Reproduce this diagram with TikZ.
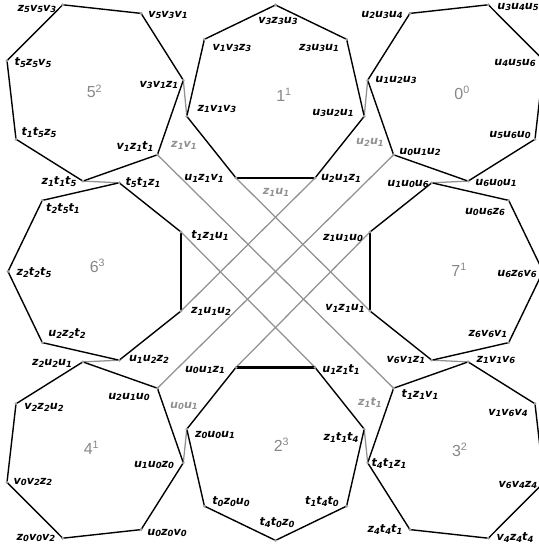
\documentclass[tikz,border=0pt]{standalone}
\usepackage{fontspec}
\setmainfont{DejaVu Sans}
\newfontfamily\facefont{Liberation Sans}
\definecolor{linkgray}{RGB}{145,145,145}
\definecolor{dotgray}{RGB}{160,160,160}
\definecolor{facegray}{RGB}{135,135,135}
\newcommand{\ix}[1]{\raisebox{-0.32ex}{\fontsize{6.3}{7}\selectfont#1}}
\newcommand{\tri}[6]{#1\ix{#2}#3\ix{#4}#5\ix{#6}}
\newcommand{\duo}[4]{#1\ix{#2}#3\ix{#4}}
\pgfdeclarelayer{lines}
\pgfsetlayers{lines,main}
\tikzset{
  side/.style={black,line width=1.05pt,line join=round},
  bond/.style={black,line width=1.8pt},
  link/.style={linkgray,line width=0.95pt},
  vtx/.style={circle,fill=dotgray,inner sep=0pt,minimum size=2.4pt},
  tag/.style={font=\fontsize{8.4}{10}\selectfont\bfseries\itshape,inner sep=0pt},
  linktag/.style={tag,text=linkgray},
  face/.style={font=\facefont\fontsize{12}{14}\selectfont,text=facegray,inner sep=0pt,anchor=base west},
}

\begin{document}
\begin{tikzpicture}[x=0.75pt,y=-0.75pt]
  \path[use as bounding box] (0,0) rectangle (538,548);

  % heptagon 5
  \node[vtx] (z5v5v3) at (62.7,4.8) {};    \node[tag] (tz5v5v3) at (37,9) {\tri z5v5v3};
  \node[vtx] (v5v3v1) at (141.1,13.4) {};  \node[tag] (tv5v3v1) at (168,15) {\tri v5v3v1};
  \node[vtx] (v3v1z1) at (183.3,80.2) {};  \node[tag] (tv3v1z1) at (159,85) {\tri v3v1z1};
  \node[vtx] (v1z1t1) at (157.4,154.8) {}; \node[tag] (tv1z1t1) at (135,147) {\tri v1z1t1};
  \node[vtx] (z1t1t5) at (82.9,181.1) {};  \node[tag] (tz1t1t5) at (59,182) {\tri z1t1t5};
  \node[vtx] (t1t5z5) at (16.0,139.2) {};  \node[tag] (tt1t5z5) at (39,133) {\tri t1t5z5};
  \node[vtx] (t5z5v5) at (7.0,60.7) {};    \node[tag] (tt5z5v5) at (33,63) {\tri t5z5v5};
  \node[face] (f5) at (86.5,98) {5\textsuperscript{2}};

  % heptagon 1
  \node[vtx] (v3z3u3) at (275.5,5.0) {};   \node[tag] (tv3z3u3) at (278,21) {\tri v3z3u3};
  \node[vtx] (z3u3u1) at (346.6,39.3) {};  \node[tag] (tz3u3u1) at (319,48) {\tri z3u3u1};
  \node[vtx] (u3u2u1) at (364.2,116.3) {}; \node[tag] (tu3u2u1) at (333,113) {\tri u3u2u1};
  \node[vtx] (u2u1z1) at (315.0,178.0) {}; \node[tag] (tu2u1z1) at (341,178) {\tri u2u1z1};
  \node[vtx] (u1z1v1) at (236.0,178.0) {}; \node[tag] (tu1z1v1) at (204,178) {\tri u1z1v1};
  \node[vtx] (z1v1v3) at (186.8,116.3) {}; \node[tag] (tz1v1v3) at (217,109) {\tri z1v1v3};
  \node[vtx] (v1v3z3) at (204.4,39.3) {};  \node[tag] (tv1v3z3) at (232,48) {\tri v1v3z3};
  \node[face] (f1) at (276,101.5) {1\textsuperscript{1}};

  % heptagon 0
  \node[vtx] (u2u3u4) at (409.9,13.4) {};  \node[tag] (tu2u3u4) at (382,15) {\tri u2u3u4};
  \node[vtx] (u3u4u5) at (488.3,4.8) {};   \node[tag] (tu3u4u5) at (518,7) {\tri u3u4u5};
  \node[vtx] (u4u5u6) at (544.0,60.7) {};  \node[tag] (tu4u5u6) at (515,63) {\tri u4u5u6};
  \node[vtx] (u5u6u0) at (535.0,139.2) {}; \node[tag] (tu5u6u0) at (510,135) {\tri u5u6u0};
  \node[vtx] (u6u0u1) at (468.1,181.1) {}; \node[tag] (tu6u0u1) at (496,183) {\tri u6u0u1};
  \node[vtx] (u0u1u2) at (393.6,154.8) {}; \node[tag] (tu0u1u2) at (420,152) {\tri u0u1u2};
  \node[vtx] (u1u2u3) at (367.7,80.2) {};  \node[tag] (tu1u2u3) at (396,80) {\tri u1u2u3};
  \node[face] (f0) at (454.2,99.5) {0\textsuperscript{0}};

  % heptagon 6
  \node[vtx] (t5t1z1) at (119.2,182.8) {}; \node[tag] (tt5t1z1) at (143,183) {\tri t5t1z1};
  \node[vtx] (t1z1u1) at (181.0,232.0) {}; \node[tag] (tt1z1u1) at (210,236) {\tri t1z1u1};
  \node[vtx] (z1u1u2) at (181.0,311.0) {}; \node[tag] (tz1u1u2) at (211,311) {\tri z1u1u2};
  \node[vtx] (u1u2z2) at (119.2,360.2) {}; \node[tag] (tu1u2z2) at (149,359) {\tri u1u2z2};
  \node[vtx] (u2z2t2) at (42.3,342.6) {};  \node[tag] (tu2z2t2) at (67,334) {\tri u2z2t2};
  \node[vtx] (z2t2t5) at (8.0,271.5) {};   \node[tag] (tz2t2t5) at (34,273) {\tri z2t2t5};
  \node[vtx] (t2t5t1) at (42.3,200.4) {};  \node[tag] (tt2t5t1) at (63,209) {\tri t2t5t1};
  \node[face] (f6) at (89.5,272.7) {6\textsuperscript{3}};

  % heptagon 7
  \node[vtx] (u1u0u6) at (431.8,182.8) {}; \node[tag] (tu1u0u6) at (408,184) {\tri u1u0u6};
  \node[vtx] (u0u6z6) at (508.7,200.4) {}; \node[tag] (tu0u6z6) at (485,212) {\tri u0u6z6};
  \node[vtx] (u6z6v6) at (543.0,271.5) {}; \node[tag] (tu6z6v6) at (517,274) {\tri u6z6v6};
  \node[vtx] (z6v6v1) at (508.7,342.6) {}; \node[tag] (tz6v6v1) at (488,334) {\tri z6v6v1};
  \node[vtx] (v6v1z1) at (431.8,360.2) {}; \node[tag] (tv6v1z1) at (406,360) {\tri v6v1z1};
  \node[vtx] (v1z1u1) at (370.0,311.0) {}; \node[tag] (tv1z1u1) at (345,308) {\tri v1z1u1};
  \node[vtx] (z1u1u0) at (370.0,232.0) {}; \node[tag] (tz1u1u0) at (343,238) {\tri z1u1u0};
  \node[face] (f7) at (451.2,276.7) {7\textsuperscript{1}};

  % heptagon 4
  \node[vtx] (z2u2u1) at (82.9,361.9) {};  \node[tag] (tz2u2u1) at (52,363) {\tri z2u2u1};
  \node[vtx] (u2u1u0) at (157.4,388.2) {}; \node[tag] (tu2u1u0) at (129,397) {\tri u2u1u0};
  \node[vtx] (u1u0z0) at (183.3,462.8) {}; \node[tag] (tu1u0z0) at (154,465) {\tri u1u0z0};
  \node[vtx] (u0z0v0) at (141.1,529.6) {}; \node[tag] (tu0z0v0) at (167,533) {\tri u0z0v0};
  \node[vtx] (z0v0v2) at (62.7,538.2) {};  \node[tag] (tz0v0v2) at (36,538) {\tri z0v0v2};
  \node[vtx] (v0v2z2) at (7.0,482.3) {};   \node[tag] (tv0v2z2) at (33,482) {\tri v0v2z2};
  \node[vtx] (v2z2u2) at (16.0,403.8) {};  \node[tag] (tv2z2u2) at (44,407) {\tri v2z2u2};
  \node[face] (f4) at (83.5,454.3) {4\textsuperscript{1}};

  % heptagon 2
  \node[vtx] (u0u1z1) at (236.0,367.4) {}; \node[tag] (tu0u1z1) at (205,370) {\tri u0u1z1};
  \node[vtx] (u1z1t1) at (315.0,367.4) {}; \node[tag] (tu1z1t1) at (341,370) {\tri u1z1t1};
  \node[vtx] (z1t1t4) at (364.2,429.1) {}; \node[tag] (tz1t1t4) at (341,438) {\tri z1t1t4};
  \node[vtx] (t1t4t0) at (346.6,506.1) {}; \node[tag] (tt1t4t0) at (322,502) {\tri t1t4t0};
  \node[vtx] (t4t0z0) at (275.5,540.4) {}; \node[tag] (tt4t0z0) at (277,523) {\tri t4t0z0};
  \node[vtx] (t0z0u0) at (204.4,506.1) {}; \node[tag] (tt0z0u0) at (231,502) {\tri t0z0u0};
  \node[vtx] (z0u0u1) at (186.8,429.1) {}; \node[tag] (tz0u0u1) at (215,435) {\tri z0u0u1};
  \node[face] (f2) at (273.5,451.7) {2\textsuperscript{3}};

  % heptagon 3
  \node[vtx] (t1z1v1) at (393.6,388.2) {}; \node[tag] (tt1z1v1) at (420,395) {\tri t1z1v1};
  \node[vtx] (z1v1v6) at (468.1,361.9) {}; \node[tag] (tz1v1v6) at (496,360) {\tri z1v1v6};
  \node[vtx] (v1v6v4) at (535.0,403.8) {}; \node[tag] (tv1v6v4) at (508,413) {\tri v1v6v4};
  \node[vtx] (v6v4z4) at (544.0,482.3) {}; \node[tag] (tv6v4z4) at (518,485) {\tri v6v4z4};
  \node[vtx] (v4z4t4) at (488.3,538.2) {}; \node[tag] (tv4z4t4) at (515,538) {\tri v4z4t4};
  \node[vtx] (z4t4t1) at (409.9,529.6) {}; \node[tag] (tz4t4t1) at (385,530) {\tri z4t4t1};
  \node[vtx] (t4t1z1) at (367.7,462.8) {}; \node[tag] (tt4t1z1) at (389,464) {\tri t4t1z1};
  \node[face] (f3) at (451.8,456) {3\textsuperscript{2}};

  % labels of the gray links
  \node[linktag] (lz1v1) at (184,145) {\duo z1v1};
  \node[linktag] (lu2u1) at (370,142) {\duo u2u1};
  \node[linktag] (lz1u1) at (276,192) {\duo z1u1};
  \node[linktag] (lu0u1) at (184,406) {\duo u0u1};
  \node[linktag] (lz1t1) at (370,403) {\duo z1t1};

  \begin{pgfonlayer}{lines}
    \draw[link] (v1z1t1.center) -- (t1z1v1.center);
    \draw[link] (u0u1u2.center) -- (u2u1u0.center);
    \draw[link] (t1z1u1.center) -- (u1z1t1.center);
    \draw[link] (z1u1u0.center) -- (u0u1z1.center);
    \draw[link] (u1z1v1.center) -- (v1z1u1.center);
    \draw[link] (u2u1z1.center) -- (z1u1u2.center);
    \draw[link] (z1t1t5.center) -- (t5t1z1.center);
    \draw[link] (v3v1z1.center) -- (z1v1v3.center);
    \draw[link] (u3u2u1.center) -- (u1u2u3.center);
    \draw[link] (u1u0u6.center) -- (u6u0u1.center);
    \draw[link] (z2u2u1.center) -- (u1u2z2.center);
    \draw[link] (z0u0u1.center) -- (u1u0z0.center);
    \draw[link] (z1t1t4.center) -- (t4t1z1.center);
    \draw[link] (v6v1z1.center) -- (z1v1v6.center);

    \draw[side] (z5v5v3.center) -- (v5v3v1.center) -- (v3v1z1.center) -- (v1z1t1.center)
      -- (z1t1t5.center) -- (t1t5z5.center) -- (t5z5v5.center) -- cycle;
    \draw[side] (v3z3u3.center) -- (z3u3u1.center) -- (u3u2u1.center) -- (u2u1z1.center)
      -- (u1z1v1.center) -- (z1v1v3.center) -- (v1v3z3.center) -- cycle;
    \draw[side] (u2u3u4.center) -- (u3u4u5.center) -- (u4u5u6.center) -- (u5u6u0.center)
      -- (u6u0u1.center) -- (u0u1u2.center) -- (u1u2u3.center) -- cycle;
    \draw[side] (t5t1z1.center) -- (t1z1u1.center) -- (z1u1u2.center) -- (u1u2z2.center)
      -- (u2z2t2.center) -- (z2t2t5.center) -- (t2t5t1.center) -- cycle;
    \draw[side] (u1u0u6.center) -- (u0u6z6.center) -- (u6z6v6.center) -- (z6v6v1.center)
      -- (v6v1z1.center) -- (v1z1u1.center) -- (z1u1u0.center) -- cycle;
    \draw[side] (z2u2u1.center) -- (u2u1u0.center) -- (u1u0z0.center) -- (u0z0v0.center)
      -- (z0v0v2.center) -- (v0v2z2.center) -- (v2z2u2.center) -- cycle;
    \draw[side] (u0u1z1.center) -- (u1z1t1.center) -- (z1t1t4.center) -- (t1t4t0.center)
      -- (t4t0z0.center) -- (t0z0u0.center) -- (z0u0u1.center) -- cycle;
    \draw[side] (t1z1v1.center) -- (z1v1v6.center) -- (v1v6v4.center) -- (v6v4z4.center)
      -- (v4z4t4.center) -- (z4t4t1.center) -- (t4t1z1.center) -- cycle;

    \draw[bond] (u1z1v1.center) -- (u2u1z1.center);
    \draw[bond] (t1z1u1.center) -- (z1u1u2.center);
    \draw[bond] (z1u1u0.center) -- (v1z1u1.center);
    \draw[bond] (u0u1z1.center) -- (u1z1t1.center);
  \end{pgfonlayer}
\end{tikzpicture}
\end{document}
